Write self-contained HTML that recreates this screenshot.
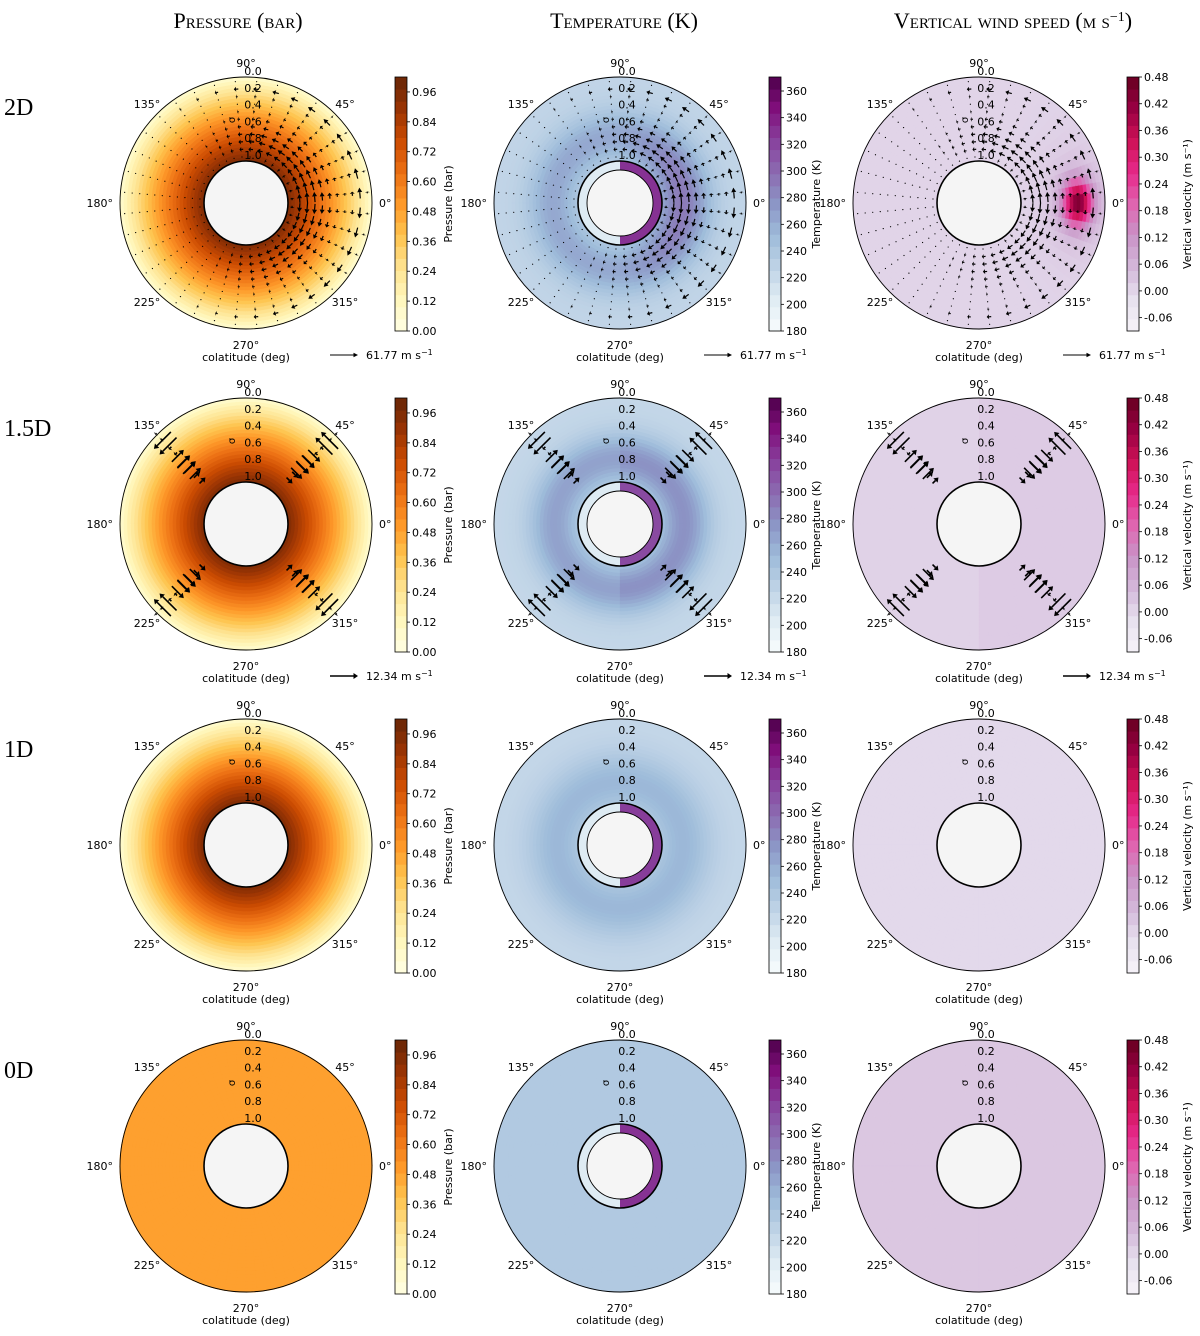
<!DOCTYPE html>
<html><head><meta charset="utf-8">
<style>
html,body{margin:0;padding:0;background:#fff;}
svg{display:block;}
text{font-family:"DejaVu Sans","Liberation Sans",sans-serif;}
.ttl{font-family:"Liberation Serif",serif;font-size:22px;font-variant:small-caps;}
.row{font-family:"Liberation Serif",serif;font-size:24px;}
</style></head>
<body>
<svg id="fig" width="1200" height="1336" viewBox="0 0 1200 1336" xmlns="http://www.w3.org/2000/svg">
<text class="ttl" x="238" y="28" text-anchor="middle">Pressure (bar)</text>
<text class="ttl" x="624" y="28" text-anchor="middle">Temperature (K)</text>
<text class="ttl" x="1013" y="28" text-anchor="middle">Vertical wind speed (m s<tspan baseline-shift="super" font-size="14">−1</tspan>)</text>
</svg>
<script>
// ---- data ----
const rowLabels = ["2D","1.5D","1D","0D"];
const pressureTicks = [0.00,0.12,0.24,0.36,0.48,0.60,0.72,0.84,0.96];
const temperatureTicks = [180,200,220,240,260,280,300,320,340,360];
const windTicks = [-0.06,0.00,0.06,0.12,0.18,0.24,0.30,0.36,0.42,0.48];
const radialLabels = [0.0,0.2,0.4,0.6,0.8,1.0];
const angleLabels = [0,45,90,135,180,225,270,315];
const vectorScaleLabels = ["61.77","12.34",null,null];
// 2D circulation: speed per ring level (t = 0 inner .. 1 outer)
const windLevels = [0.05,0.14,0.23,0.32,0.41,0.5,0.59,0.68,0.77,0.86,0.95];
const windSpeed2D = [0.2,0.75,0.9,0.85,0.7,0.5,0.3,0.2,0.35,0.9,0.15];
// angular weighting of 2D circulation, every 10° from 0°
const windAngleWeight = [1.0,1.0,0.95,0.9,0.85,0.8,0.72,0.62,0.52,0.42,0.32,0.24,0.16,0.1,0.06,0.04,0.03,0.02,0.02,0.02,0.03,0.04,0.06,0.1,0.16,0.24,0.32,0.42,0.52,0.62,0.72,0.8,0.85,0.9,0.95,1.0];
// 1.5D diagonal arrows
const diagLevels = [0.97,0.86,0.73,0.6,0.5,0.4,0.28];
const diagSpeed = [0.08,1.0,0.15,-0.7,-0.75,-0.65,-0.35];

const YlOrBr=["#ffffe5","#fff7bc","#fee391","#fec44f","#fe9929","#ec7014","#cc4c02","#993404","#662506"];
const BuPu=["#f7fcfd","#e0ecf4","#bfd3e6","#9ebcda","#8c96c6","#8c6bb1","#88419d","#810f7c","#4d004b"];
const PuRd=["#f7f4f9","#e7e1ef","#d4b9da","#c994c7","#df65b0","#e7298a","#ce1256","#980043","#67001f"];
function hex(h){return [1,3,5].map(i=>parseInt(h.substr(i,2),16));}
function cm(m,x){x=Math.max(0,Math.min(1,x));const n=m.length-1;const i=Math.min(n-1,Math.floor(x*n));const f=x*n-i;const a=hex(m[i]),b=hex(m[i+1]);
 return "rgb("+a.map((v,k)=>Math.round(v+(b[k]-v)*f)).join(",")+")";}
const svg=document.getElementById('fig');
const NS="http://www.w3.org/2000/svg";
function el(tag,attrs,parent){const e=document.createElementNS(NS,tag);for(const k in attrs)e.setAttribute(k,attrs[k]);(parent||svg).appendChild(e);return e;}
function txt(s,x,y,attrs,parent){const e=el('text',Object.assign({x:x,y:y},attrs||{}),parent);e.textContent=s;return e;}

const R=126,R0=42;
const cols=[
 {cx:246,cb:395,map:YlOrBr,lo:0,hi:1.02,ticks:pressureTicks,fmt:v=>v.toFixed(2),label:"Pressure (bar)",kind:'p',lo2:57},
 {cx:620,cb:769,map:BuPu,lo:180,hi:370.5,ticks:temperatureTicks,fmt:v=>String(v),label:"Temperature (K)",kind:'T',lo2:51},
 {cx:979,cb:1127,map:PuRd,lo:-0.09,hi:0.48,ticks:windTicks,fmt:v=>v.toFixed(2),label:"Vertical velocity (m s⁻¹)",kind:'w',lo2:64}];

function field(kind,row,t,th){
 const c=Math.cos(th);
 if(kind==='p'){ if(row===3) return 0.49; return 0.06+0.9*Math.pow(1-t,0.9); }
 if(kind==='T'){
  if(row===3) return 238;
  let base;
  if(row===0){base=226+38*Math.exp(-Math.pow((t-0.3)/0.3,2));base+=30*Math.max(0,c)*Math.exp(-Math.pow((t-0.15)/0.35,2));}
  else if(row===1){base=224+44*Math.exp(-Math.pow((t-0.28)/0.3,2));if(c>0) base+=10*Math.exp(-Math.pow((t-0.2)/0.3,2));}
  else base=224+30*Math.exp(-Math.pow((t-0.25)/0.35,2));
  return base;
 }
 if(row===0){const a=Math.atan2(Math.sin(th),c);const d=Math.pow(a/0.22,2)+Math.pow((t-0.68)/0.17,2);return 0.005+0.4*Math.exp(-d)+0.05*Math.exp(-d/5);}
 if(row===1) return c>0?0.02:0.008;
 if(row===2) return -0.005;
 return 0.028;
}
function sector(cx,cy,r1,r2,a1,a2){
 const p=(r,a)=>(cx+r*Math.cos(a)).toFixed(2)+","+(cy-r*Math.sin(a)).toFixed(2);
 return "M"+p(r1,a1)+"L"+p(r2,a1)+"A"+r2+","+r2+" 0 0 0 "+p(r2,a2)+"L"+p(r1,a2)+"A"+r1+","+r1+" 0 0 1 "+p(r1,a1)+"Z";
}
function arrow(g,x,y,dx,dy,w){
 const L=Math.hypot(dx,dy); if(L<1.5){el('circle',{cx:x,cy:y,r:0.6,fill:'#000'},g);return;}
 const ux=dx/L,uy=dy/L,hl=Math.min(4.5,L*0.5),hw=w*1.4+0.8;
 const x2=x+dx/2,y2=y+dy/2,x1=x-dx/2,y1=y-dy/2;
 const a=el('path',{d:"M"+x1+","+y1+"L"+(x2-ux*hl)+","+(y2-uy*hl),stroke:'#000','stroke-width':w,fill:'none'},g);
 
 
 el('path',{d:"M"+x2+","+y2+"L"+(x2-ux*hl-uy*hw)+","+(y2-uy*hl+ux*hw)+"L"+(x2-ux*hl+uy*hw)+","+(y2-uy*hl-ux*hw)+"Z",fill:'#000'},g);
}

rowLabels.forEach((rl,ri)=>{
 const cy=203+321*ri, cbTop=77+321*ri, cbH=254;
 const lab=txt(rl,4,cy-88,{class:'row'});
 
 
 cols.forEach((C,ci)=>{
  const g=el('g',{});
  
  
  const cx=C.cx;
  const norm=v=>(v-C.lo)/(C.hi-C.lo);
  const NR=24,NA=72,rin=(C.kind==='T')?33:R0;
  for(let i=0;i<NR;i++){
   const r1=R0+(R-R0)*i/NR,r2=R0+(R-R0)*(i+1)/NR,t=(i+0.5)/NR;
   for(let j=0;j<NA;j++){
    const a1=2*Math.PI*j/NA,a2=2*Math.PI*(j+1)/NA,th=(a1+a2)/2;
    const col=cm(C.map,norm(field(C.kind,ri,t,th)));
    el('path',{d:sector(cx,cy,r1,r2+0.4,a1,a2+0.01),fill:col,stroke:col,'stroke-width':0.3},g);
   }
  }
  if(C.kind==='T'){
   const hot=[330,318,325,330][ri];
   el('path',{d:sector(cx,cy,33,42,-Math.PI/2,Math.PI/2),fill:cm(C.map,norm(hot))},g);
   el('path',{d:sector(cx,cy,33,42,Math.PI/2,3*Math.PI/2),fill:cm(C.map,norm(205))},g);
   const ring=el('circle',{cx:cx,cy:cy,r:42,fill:'none',stroke:'#000','stroke-width':1.6},g);
   
   
  }
  const inner=el('circle',{cx:cx,cy:cy,r:rin,fill:'#f5f5f5',stroke:'#000','stroke-width':C.kind==='T'?0.9:1.6},g);
  
  
  const outer=el('circle',{cx:cx,cy:cy,r:R,fill:'none',stroke:'#000','stroke-width':0.9},g);
  
  
  if(ri===0){
   windLevels.forEach((t,li)=>{
    const r=R0+(R-R0)*t;
    windAngleWeight.forEach((w,ai)=>{
     const th=(ai*10+5)*Math.PI/180;
     const s=Math.sin(th)>=0?1:-1;
     const m=windSpeed2D[li]*w*12;
     const x=cx+r*Math.cos(th),y=cy-r*Math.sin(th);
     arrow(g,x,y,-Math.sin(th)*m*s,-Math.cos(th)*m*s,1.2);
    });
   });
  }
  if(ri===1){
   [45,135,225,315].forEach(d=>{
    const th=d*Math.PI/180;const s=Math.sin(th)>=0?1:-1;
    diagLevels.forEach((t,li)=>{
     const r=R0+(R-R0)*t;const m=diagSpeed[li]*24*s;
     [-4,4].forEach(off=>{
      const rr=r+off;
      const x=cx+rr*Math.cos(th),y=cy-rr*Math.sin(th);
      arrow(g,x,y,-Math.sin(th)*m,-Math.cos(th)*m,1.6);
     });
    });
   });
  }
  radialLabels.forEach(p=>{
   const tl=txt(p.toFixed(1),cx+7,cy-(130-p*84)+2,{'font-size':11,'text-anchor':'middle'},g);
   
   
  });
  const sg=txt("σ",cx-14,cy-80,{'font-size':10,'text-anchor':'middle',transform:'rotate(-90 '+(cx-14)+' '+(cy-83)+')'},g);
  
  
  angleLabels.forEach(a=>{
   const th=a*Math.PI/180,rr=140;
   let x=cx+rr*Math.cos(th),y=cy-rr*Math.sin(th)+4,anc='middle';
   if(a===0){x=cx+133;anc='start';} if(a===180){x=cx-133;anc='end';}
   if(a===90)y=cy-136; if(a===270)y=cy+146;
   const al=txt(a+"°",x,y,{'font-size':11,'text-anchor':anc},g);
   
   
  });
  const xl=txt("colatitude (deg)",cx,cy+158,{'font-size':11,'text-anchor':'middle'},g);
  
  
  if(vectorScaleLabels[ri]){
   const ax=cx+84,ay=cy+152;
   arrow(g,ax+14,ay,28,0,ri===0?1:1.6);
   const vl=txt(vectorScaleLabels[ri]+" m s",ax+36,ay+4,{'font-size':11},g);
   const sp=el('tspan',{'baseline-shift':'super','font-size':8},vl);sp.textContent="−1";
   
   
  }
  const cb=el('g',{});
  
  
  const NB=21;
  for(let k=0;k<NB;k++){
   const y1=cbTop+cbH*(1-(k+1)/NB),col=cm(C.map,(k+0.5)/NB);
   el('rect',{x:C.cb,y:y1,width:12,height:cbH/NB+0.5,fill:col},cb);
  }
  el('rect',{x:C.cb,y:cbTop,width:12,height:cbH,fill:'none',stroke:'#000','stroke-width':0.8},cb);
  C.ticks.forEach(v=>{
   const y=cbTop+cbH*(1-norm(v));
   el('line',{x1:C.cb+12,x2:C.cb+15,y1:y,y2:y,stroke:'#000','stroke-width':0.8},cb);
   const tk=txt(C.fmt(v),C.cb+17,y+4,{'font-size':11},cb);
   
   
  });
  const lx=C.cb+C.lo2,ly=cbTop+cbH/2;
  const cl=txt(C.label,lx,ly,{'font-size':11,'text-anchor':'middle',transform:'rotate(-90 '+lx+' '+ly+')'},cb);
  
  
 });
});
</script>
</body></html>
